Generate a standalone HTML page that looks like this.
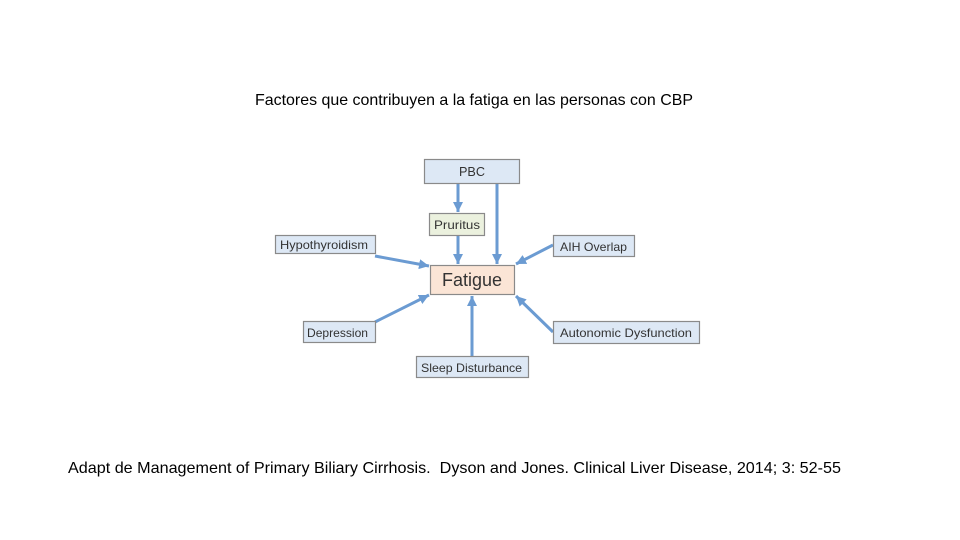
<!DOCTYPE html>
<html>
<head>
<meta charset="utf-8">
<style>
  html, body { margin:0; padding:0; background:#ffffff; }
  body { width:960px; height:540px; overflow:hidden; }
  svg { display:block; }
  text { font-family: "Liberation Sans", sans-serif; }
</style>
</head>
<body>
<svg width="960" height="540" viewBox="0 0 960 540" xmlns="http://www.w3.org/2000/svg">
  <defs>
    <marker id="ah" markerUnits="userSpaceOnUse" markerWidth="12" markerHeight="12" refX="10" refY="5" orient="auto">
      <path d="M0,0 L10,5 L0,10 z" fill="#6b9bd2"/>
    </marker>
  </defs>
  <rect width="960" height="540" fill="#ffffff"/>

  <!-- Title -->
  <text x="255" y="105" font-size="16" fill="#000" textLength="438" lengthAdjust="spacingAndGlyphs">Factores que contribuyen a la fatiga en las personas con CBP</text>

  <!-- Arrows -->
  <g stroke="#6b9bd2" stroke-width="3" fill="none" marker-end="url(#ah)">
    <line x1="458" y1="183" x2="458" y2="212"/>
    <line x1="497" y1="183" x2="497" y2="264"/>
    <line x1="458" y1="235" x2="458" y2="264"/>
    <line x1="375" y1="256" x2="429" y2="266"/>
    <line x1="553" y1="245" x2="516" y2="264"/>
    <line x1="375" y1="322" x2="429" y2="295"/>
    <line x1="472" y1="356" x2="472" y2="296"/>
    <line x1="553" y1="332" x2="516" y2="296"/>
  </g>

  <!-- Boxes -->
  <g stroke="#8a8a8a" stroke-width="1.2">
    <rect x="424.5" y="159.5" width="95" height="24" fill="#dde8f5"/>
    <rect x="429.5" y="213.5" width="55" height="22" fill="#ebf1de"/>
    <rect x="275.5" y="235.5" width="100" height="18" fill="#dde8f5"/>
    <rect x="553.5" y="235.5" width="81" height="21" fill="#dde8f5"/>
    <rect x="430.5" y="265.5" width="84" height="29" fill="#fbe5d6"/>
    <rect x="303.5" y="321.5" width="72" height="21" fill="#dde8f5"/>
    <rect x="553.5" y="321.5" width="146" height="22" fill="#dde8f5"/>
    <rect x="416.5" y="356.5" width="112" height="21" fill="#dde8f5"/>
  </g>

  <!-- Labels -->
  <g fill="#333333">
    <text x="472" y="176" font-size="13" text-anchor="middle" textLength="26" lengthAdjust="spacingAndGlyphs">PBC</text>
    <text x="434" y="229" font-size="12" textLength="46" lengthAdjust="spacingAndGlyphs">Pruritus</text>
    <text x="280" y="249" font-size="12" textLength="88" lengthAdjust="spacingAndGlyphs">Hypothyroidism</text>
    <text x="560" y="251" font-size="12" textLength="67" lengthAdjust="spacingAndGlyphs">AIH Overlap</text>
    <text x="442" y="286" font-size="18" textLength="60" lengthAdjust="spacingAndGlyphs">Fatigue</text>
    <text x="307" y="337" font-size="12" textLength="61" lengthAdjust="spacingAndGlyphs">Depression</text>
    <text x="560" y="337" font-size="12" textLength="132" lengthAdjust="spacingAndGlyphs">Autonomic Dysfunction</text>
    <text x="421" y="372" font-size="12" textLength="101" lengthAdjust="spacingAndGlyphs">Sleep Disturbance</text>
  </g>

  <!-- Footer -->
  <text x="68" y="473" font-size="16" fill="#000" textLength="773" lengthAdjust="spacingAndGlyphs" xml:space="preserve">Adapt de Management of Primary Biliary Cirrhosis.  Dyson and Jones. Clinical Liver Disease, 2014; 3: 52-55</text>
</svg>
</body>
</html>
